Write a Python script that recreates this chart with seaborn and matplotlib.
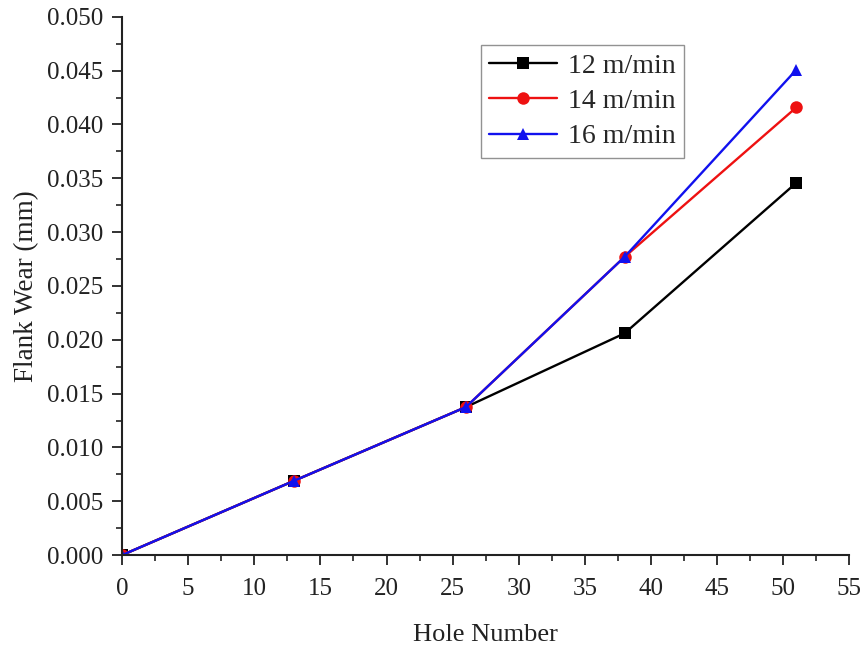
import numpy as np
import pandas as pd
import matplotlib
matplotlib.use("Agg")
import matplotlib.pyplot as plt
import seaborn as sns
from matplotlib.ticker import MultipleLocator, FormatStrFormatter

holes = [0, 13, 26, 38, 51]
wear_12 = [0.0, 0.0069, 0.01375, 0.0206, 0.0346]
wear_14 = [0.0, 0.0069, 0.01375, 0.0277, 0.0416]
wear_16 = [0.0, 0.0069, 0.01375, 0.0277, 0.0451]
series_names = ["12 m/min", "14 m/min", "16 m/min"]

df = pd.DataFrame({
    "Hole Number": holes * 3,
    "Flank Wear (mm)": wear_12 + wear_14 + wear_16,
    "Speed": [series_names[0]] * 5 + [series_names[1]] * 5 + [series_names[2]] * 5,
})

sns.set_theme(style="white")
plt.rcParams["font.family"] = ["Liberation Serif", "DejaVu Serif"]

fig = plt.figure(figsize=(8.67, 6.47), dpi=100)
ax = fig.add_axes([0.1407, 0.142, 0.839, 0.832])

palette = {series_names[0]: "#000000", series_names[1]: "#ee1111", series_names[2]: "#1111ee"}
markers = {series_names[0]: "s", series_names[1]: "o", series_names[2]: "^"}

sns.lineplot(data=df, x="Hole Number", y="Flank Wear (mm)", hue="Speed", style="Speed",
             palette=palette, markers=markers, dashes=False, linewidth=1.7,
             markersize=9, markeredgewidth=0, ax=ax)

ax.set_xlim(0, 55)
ax.set_ylim(0, 0.050)
ax.xaxis.set_major_locator(MultipleLocator(5))
ax.xaxis.set_minor_locator(MultipleLocator(2.5))
ax.yaxis.set_major_locator(MultipleLocator(0.005))
ax.yaxis.set_minor_locator(MultipleLocator(0.0025))
ax.yaxis.set_major_formatter(FormatStrFormatter("%.3f"))

for side in ["top", "right"]:
    ax.spines[side].set_visible(False)
for side in ["left", "bottom"]:
    ax.spines[side].set_color("#222222")
    ax.spines[side].set_linewidth(1.5)

ax.tick_params(axis="both", which="major", direction="out", length=7.5, width=1.3,
               color="#222222", labelsize=18, labelcolor="#222222", bottom=True, left=True)
ax.tick_params(axis="x", which="major", pad=9)
ax.tick_params(axis="y", which="major", pad=6)
ax.tick_params(axis="both", which="minor", direction="out", length=4, width=1.2,
               color="#222222", bottom=True, left=True)

ax.set_xlabel("Hole Number", fontsize=19, color="#222222", labelpad=17)
ax.set_ylabel("Flank Wear (mm)", fontsize=19.5, color="#222222", labelpad=6)

leg = ax.legend(loc="upper left", bbox_to_anchor=(0.493, 0.948), borderaxespad=0,
                fontsize=20, frameon=True, fancybox=False, edgecolor="#777777",
                handlelength=2.45, borderpad=0.3, labelspacing=0.36, handletextpad=0.4)
leg.get_frame().set_linewidth(1.0)

fig.savefig("out.png", dpi=100, facecolor="white")
